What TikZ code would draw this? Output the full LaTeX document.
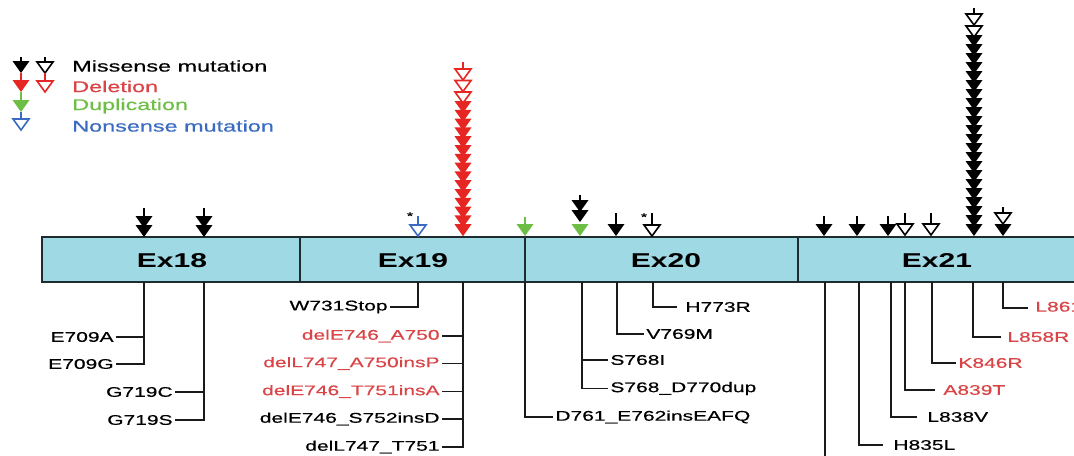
\documentclass[tikz,border=0pt]{standalone}
\usepackage{fontspec}
\setmainfont{Liberation Sans}[FakeStretch=1.5]
\newfontfamily\labfont{Liberation Sans}[FakeStretch=1.5, FakeBold=0.5]
\definecolor{barfill}{HTML}{9FD9E4}
\definecolor{barline}{HTML}{1E2C30}
\definecolor{arrred}{HTML}{E62622}
\definecolor{txtred}{HTML}{D94447}
\definecolor{arrgreen}{HTML}{6DBE45}
\definecolor{arrblue}{HTML}{3A6BC0}
\definecolor{linecol}{HTML}{1A1A1A}
\newcommand{\filhead}[3][black]{\fill[#1] (#2,#3) -- ++(-8.5,-12) -- ++(17,0) -- cycle;}
\newcommand{\opnhead}[3][black]{\draw[#1, fill=white, line width=1.2pt, line join=miter] (#2,#3) -- ++(-8,-11) -- ++(16,0) -- cycle;}
\tikzset{
  bar/.style={draw=barline, fill=barfill, line width=1pt},
  exlab/.style={font=\bfseries\fontsize{15}{18}\selectfont, inner sep=0pt},
  lab/.style={font=\labfont\fontsize{10.5}{12}\selectfont, inner sep=1.6pt},
  leg/.style={font=\labfont\fontsize{11.7}{14}\selectfont, anchor=west, inner sep=0pt},
  conn/.style={line width=1.4pt, draw=linecol},
  stem/.style={line width=1.5pt},
  star/.style={font=\labfont\fontsize{8}{9}\selectfont, inner sep=0pt}
}
\begin{document}
\begin{tikzpicture}[x=0.75pt,y=-0.75pt]
\useasboundingbox (0,0) rectangle (1074,455);
\clip (0,0) rectangle (1074,455);

% ---------- legend ----------
\draw[stem,black] (21,57) -- (21,70);
\filhead{21}{73}
\draw[stem,arrred] (21,73) -- (21,84);
\filhead[arrred]{21}{92}
\draw[stem,arrgreen] (21,92) -- (21,104);
\filhead[arrgreen]{21}{112}
\draw[stem,arrblue] (21,112) -- (21,120);
\opnhead[arrblue]{21}{130}
\draw[stem,black] (45,57) -- (45,64);
\opnhead{45}{73}
\draw[stem,arrred] (45,73) -- (45,82);
\opnhead[arrred]{45}{92}
\node[leg,text=black] (lmis) at (72,66) {Missense mutation};
\node[leg,text=txtred] (ldel) at (72,86.5) {Deletion};
\node[leg,text=arrgreen] (ldup) at (72,106) {Duplication};
\node[leg,text=arrblue] (lnon) at (72,126) {Nonsense mutation};

% ---------- exon bar ----------
\draw[bar] (42,237) rectangle (1080,282);
\draw[bar] (300,237) -- (300,282);
\draw[bar] (525,237) -- (525,282);
\draw[bar] (798,237) -- (798,282);
\node[exlab] (ex18) at (172,261) {Ex18};
\node[exlab] (ex19) at (413,261) {Ex19};
\node[exlab] (ex20) at (666,261) {Ex20};
\node[exlab] (ex21) at (937,261) {Ex21};

% ---------- arrows above ----------
% Ex18
\foreach \x in {144,204} {
  \draw[stem] (\x,208) -- (\x,230);
  \filhead{\x}{228}
  \filhead{\x}{237}
}
% Ex19
\draw[stem,arrblue] (418,216) -- (418,228);
\opnhead[arrblue]{418}{236}
\node[star] (st1) at (410,216) {*};
\draw[stem,arrred] (463,62) -- (463,120);
\foreach \t in {80,91.5,103} {\opnhead[arrred]{463}{\t}}
\foreach \i in {0,...,14} {\filhead[arrred]{463}{113+\i*8.8}}
% Ex20
\draw[stem,arrgreen] (525,217) -- (525,230);
\filhead[arrgreen]{525}{236}
\draw[stem] (580,195) -- (580,215);
\filhead{580}{212}
\filhead{580}{222}
\filhead[arrgreen]{580}{236}
\draw[stem] (616,213) -- (616,230);
\filhead{616}{236}
\draw[stem] (652,213) -- (652,228);
\opnhead{652}{236}
\node[star] (st2) at (644,217) {*};
% Ex21
\foreach \x in {824,857,888} {
  \draw[stem] (\x,216) -- (\x,230);
  \filhead{\x}{236}
}
\foreach \x in {905,931} {
  \draw[stem] (\x,213) -- (\x,228);
  \opnhead{\x}{235}
}
\draw[stem] (974,8) -- (974,40);
\opnhead{974}{25}
\opnhead{974}{37}
\foreach \i in {0,...,21} {\filhead{974}{47+\i*9}}
\draw[stem] (1003,207) -- (1003,218);
\opnhead{1003}{224}
\filhead{1003}{236}

% ---------- labels below ----------
% Ex18
\coordinate (v144) at (144,282);
\coordinate (v204) at (204,282);
\node[lab,anchor=east] (e709a) at (116,337) {E709A};
\node[lab,anchor=east] (e709g) at (116,364) {E709G};
\node[lab,anchor=east] (g719c) at (175,392) {G719C};
\node[lab,anchor=east] (g719s) at (175,420) {G719S};
\draw[conn] (v144) |- (e709g.east);
\draw[conn] (e709a.east) -- (e709a.east -| v144);
\draw[conn] (v204) |- (g719s.east);
\draw[conn] (g719c.east) -- (g719c.east -| v204);
% Ex19
\coordinate (v418) at (418,282);
\coordinate (v463) at (463,282);
\node[lab,anchor=east] (w731) at (390,307) {W731Stop};
\draw[conn] (v418) |- (w731.east);
\node[lab,anchor=east,text=txtred] (d1) at (442,336) {delE746\_A750};
\node[lab,anchor=east,text=txtred] (d2) at (442,363.5) {delL747\_A750insP};
\node[lab,anchor=east,text=txtred] (d3) at (442,391.5) {delE746\_T751insA};
\node[lab,anchor=east] (d4) at (442,419) {delE746\_S752insD};
\node[lab,anchor=east] (d5) at (442,447) {delL747\_T751};
\draw[conn] (v463) |- (d5.east);
\foreach \n in {d1,d2,d3,d4} {\draw[conn] (\n.east) -- (\n.east -| v463);}
% Ex20
\coordinate (v525) at (525,282);
\coordinate (v582) at (582,282);
\coordinate (v617) at (617,282);
\coordinate (v653) at (653,282);
\node[lab,anchor=west] (d761) at (553,417) {D761\_E762insEAFQ};
\draw[conn] (v525) |- (d761.west);
\node[lab,anchor=west] (s768i) at (608,360) {S768I};
\node[lab,anchor=west] (s768d) at (608,388.5) {S768\_D770dup};
\draw[conn] (v582) |- (s768d.west);
\draw[conn] (s768i.west) -- (s768i.west -| v582);
\node[lab,anchor=west] (v769m) at (644,334) {V769M};
\draw[conn] (v617) |- (v769m.west);
\coordinate (h773e) at (677,307);
\node[lab,anchor=west] (h773r) at (683,307) {H773R};
\draw[conn] (v653) |- (h773e);
% Ex21
\coordinate (v825) at (825,282);
\coordinate (v825b) at (825,470);
\draw[conn] (v825) -- (v825b);
\coordinate (v859) at (859,282);
\coordinate (h835e) at (883,445);
\node[lab,anchor=west] (h835l) at (891,445) {H835L};
\draw[conn] (v859) |- (h835e);
\coordinate (v891) at (891,282);
\coordinate (l838e) at (917,417);
\node[lab,anchor=west] (l838v) at (925,417) {L838V};
\draw[conn] (v891) |- (l838e);
\coordinate (v905) at (905,282);
\coordinate (a839e) at (935,390);
\node[lab,anchor=west,text=txtred] (a839t) at (941,390) {A839T};
\draw[conn] (v905) |- (a839e);
\coordinate (v932) at (932,282);
\node[lab,anchor=west,text=txtred] (k846r) at (956,363) {K846R};
\draw[conn] (v932) |- (k846r.west);
\coordinate (v973) at (973,282);
\coordinate (l858e) at (1001,337);
\node[lab,anchor=west,text=txtred] (l858r) at (1005,337) {L858R};
\draw[conn] (v973) |- (l858e);
\coordinate (v1003) at (1003,282);
\coordinate (l861e) at (1028,308);
\node[lab,anchor=west,text=txtred] (l861q) at (1033,308) {L861Q};
\draw[conn] (v1003) |- (l861e);
\end{tikzpicture}
\end{document}
